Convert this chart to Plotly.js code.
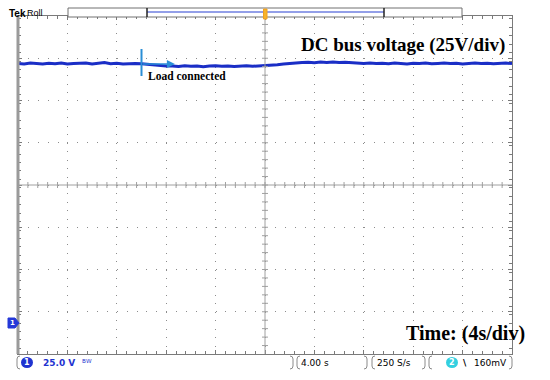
<!DOCTYPE html>
<html>
<head>
<meta charset="utf-8">
<script src="https://cdn.plot.ly/plotly-3.0.1.min.js"></script>
<style>
  body { margin: 0; background: #ffffff; }
  #scope { width: 550px; height: 380px; }
</style>
</head>
<body>
<div id="scope"></div>
<script>
// sample period of the roll-mode record (s)
var sample_step = 0.5;

// DC bus voltage (V), one value every 0.5 s, 0 .. 40 s
var bus_voltage = [
    153.6, 153.3, 153.8, 153.5, 153.2, 153.7, 153.4, 153.9, 153.3, 153.6,
    153.5, 153.8, 153.2, 153.6, 154.1, 153.4, 153.7, 153.3, 153.6, 153.5,
    153.4,
    153.0, 152.6, 152.3, 152.1,
    152.0, 151.8, 152.2, 151.9, 152.1, 151.7, 152.0, 152.2, 151.9, 152.1,
    151.8, 152.0, 152.2, 151.9, 152.1, 152.0,
    152.4, 152.8, 153.2, 153.6, 153.9, 154.1,
    154.3, 154.0, 154.4, 154.2, 154.5, 154.1, 154.3, 154.0,
    153.8, 153.6, 153.9, 153.5, 153.7, 153.4, 153.8, 153.6, 153.3, 153.7,
    153.5, 153.9, 153.4, 153.6, 153.8, 153.5, 153.7, 153.3, 153.6, 153.9,
    153.5, 153.7, 153.4, 153.6, 153.8, 153.5
];

var time_per_div = 4;     // s/div
var volt_per_div = 25;    // V/div
var load_time = 10;       // s, moment the load is switched in

var status_labels = [ '25.0 V', '4.00 s', '250 S/s', '160mV' ];
var title_text = 'DC bus voltage (25V/div)';
var time_text = 'Time: (4s/div)';
var event_text = 'Load connected';

var time = [];
for( var i = 0; i < bus_voltage.length; i++ )
{
    time.push( i * sample_step );
}

// screen geometry (pixels) of the graticule
const L = 18, R = 512, T = 16, B = 354;
const ground_div = ( B - 323 ) / ( ( B - T ) / 8 );

function fx( p ) { return ( p - L ) / ( R - L ); }
function fy( p ) { return ( B - p ) / ( B - T ); }

var grey = '#8c8c8c';
var trace_blue = '#1a2ec6';
var marker_blue = '#2a8fd6';

var data =
[
    {
        type: 'scatter',
        mode: 'lines',
        x: time,
        y: bus_voltage,
        hoverinfo: 'skip',
        line: { color: trace_blue, width: 3 }
    }
];

var shapes = [];

// centre cross of the graticule
shapes.push( { type: 'line', xref: 'paper', yref: 'paper', x0: 0.5, x1: 0.5, y0: 0, y1: 1, line: { color: '#a0a0a0', width: 1 } } );
shapes.push( { type: 'line', xref: 'paper', yref: 'paper', x0: 0, x1: 1, y0: 0.5, y1: 0.5, line: { color: '#a0a0a0', width: 1 } } );
for( var i = 1; i < 50; i++ )
{
    var xp = i / 50;
    shapes.push( { type: 'line', xref: 'paper', yref: 'paper', x0: xp, x1: xp, y0: 0.5 - 3 / 338, y1: 0.5 + 3 / 338, line: { color: '#a0a0a0', width: 1 } } );
}
for( var i = 1; i < 40; i++ )
{
    var yp = i / 40;
    shapes.push( { type: 'line', xref: 'paper', yref: 'paper', y0: yp, y1: yp, x0: 0.5 - 3 / 494, x1: 0.5 + 3 / 494, line: { color: '#a0a0a0', width: 1 } } );
}

// thick left edge of the screen
shapes.push( { type: 'line', xref: 'paper', yref: 'paper', x0: 0, x1: 0, y0: 0, y1: 1, line: { color: '#9a9a9a', width: 3 } } );

// record view bar at the top
shapes.push( { type: 'rect', xref: 'paper', yref: 'paper', x0: fx( 68 ), x1: fx( 462 ), y0: fy( 17 ), y1: fy( 8 ), line: { color: '#707070', width: 1 }, fillcolor: '#ffffff' } );
shapes.push( { type: 'line', xref: 'paper', yref: 'paper', x0: fx( 147 ), x1: fx( 384 ), y0: fy( 12 ), y1: fy( 12 ), line: { color: '#6f7fe0', width: 1.5 } } );
shapes.push( { type: 'line', xref: 'paper', yref: 'paper', x0: fx( 147 ), x1: fx( 147 ), y0: fy( 17 ), y1: fy( 8 ), line: { color: '#222222', width: 1.5 } } );
shapes.push( { type: 'line', xref: 'paper', yref: 'paper', x0: fx( 384 ), x1: fx( 384 ), y0: fy( 17 ), y1: fy( 8 ), line: { color: '#222222', width: 1.5 } } );
shapes.push( { type: 'rect', xref: 'paper', yref: 'paper', x0: fx( 263.5 ), x1: fx( 267 ), y0: fy( 19 ), y1: fy( 9 ), line: { color: '#f0a020', width: 1 }, fillcolor: '#f7b32b' } );

// channel 1 ground marker
shapes.push( {
    type: 'path', xref: 'paper', yref: 'paper',
    path: 'M ' + fx( 8 ) + ' ' + fy( 318 ) + ' L ' + fx( 15 ) + ' ' + fy( 318 ) + ' L ' + fx( 19 ) + ' ' + fy( 323 ) + ' L ' + fx( 15 ) + ' ' + fy( 328 ) + ' L ' + fx( 8 ) + ' ' + fy( 328 ) + ' Z',
    fillcolor: '#2438d8', line: { color: '#2438d8', width: 1 }
} );

// status bar brackets
function bracket( p, dir )
{
    const y0 = 356, y1 = 369, c = 3 * dir;
    return {
        type: 'path', xref: 'paper', yref: 'paper',
        path: 'M ' + fx( p + c ) + ' ' + fy( y0 ) + ' Q ' + fx( p ) + ' ' + fy( y0 ) + ' ' + fx( p ) + ' ' + fy( y0 + 3 ) +
              ' L ' + fx( p ) + ' ' + fy( y1 - 3 ) + ' Q ' + fx( p ) + ' ' + fy( y1 ) + ' ' + fx( p + c ) + ' ' + fy( y1 ),
        line: { color: '#8a8a8a', width: 1 }
    };
}
[ [ 17, 1 ], [ 293, -1 ], [ 297, 1 ], [ 367, -1 ], [ 372, 1 ], [ 425, -1 ], [ 429, 1 ], [ 512, -1 ] ].forEach( function( b ) { shapes.push( bracket( b[ 0 ], b[ 1 ] ) ); } );

// channel badges
shapes.push( { type: 'circle', xref: 'paper', yref: 'paper', x0: fx( 21 ), x1: fx( 33 ), y0: fy( 368 ), y1: fy( 357 ), fillcolor: '#1f33d0', line: { width: 0 } } );
shapes.push( { type: 'circle', xref: 'paper', yref: 'paper', x0: fx( 446 ), x1: fx( 458 ), y0: fy( 368 ), y1: fy( 357 ), fillcolor: '#33d0e0', line: { width: 0 } } );

// load connected marker
shapes.push( { type: 'line', xref: 'x', yref: 'paper', x0: load_time, x1: load_time, y0: fy( 76 ), y1: fy( 49 ), line: { color: marker_blue, width: 2 } } );

var status_font = { family: 'DejaVu Sans, sans-serif', size: 9 };
function status( text, p, color, anchor )
{
    return {
        xref: 'paper', yref: 'paper', x: fx( p ), y: fy( 363 ), text: text, showarrow: false,
        xanchor: anchor || 'left', yanchor: 'middle',
        font: { family: status_font.family, size: status_font.size, color: color }
    };
}

var serif = 'Liberation Serif, Times New Roman, serif';

var annotations =
[
    { xref: 'paper', yref: 'paper', x: fx( 403 ), y: fy( 45 ), text: '<b>' + title_text + '</b>', showarrow: false, xanchor: 'center', yanchor: 'middle',
      font: { family: serif, size: 19, color: '#000000' } },
    { xref: 'paper', yref: 'paper', x: fx( 465 ), y: fy( 333 ), text: '<b>' + time_text + '</b>', showarrow: false, xanchor: 'center', yanchor: 'middle',
      font: { family: serif, size: 20, color: '#000000' } },
    { xref: 'paper', yref: 'paper', x: fx( 146 ), y: fy( 76 ), text: '<b>' + event_text + '</b>', showarrow: false, xanchor: 'left', yanchor: 'middle',
      font: { family: serif, size: 11.5, color: '#000000' } },
    { xref: 'x', yref: 'paper', x: load_time + 2.7, y: fy( 64 ), ax: load_time, ay: fy( 64 ), axref: 'x', ayref: 'paper',
      text: '', showarrow: true, arrowhead: 2, arrowsize: 1, arrowwidth: 1.6, arrowcolor: marker_blue },
    { xref: 'paper', yref: 'paper', x: fx( 7 ), y: fy( 13 ), text: '<b>Tek</b>', showarrow: false, xanchor: 'left', yanchor: 'middle',
      font: { family: 'Liberation Sans, Arial, sans-serif', size: 10, color: '#000000' } },
    { xref: 'paper', yref: 'paper', x: fx( 25 ), y: fy( 13 ), text: 'Roll', showarrow: false, xanchor: 'left', yanchor: 'middle',
      font: { family: 'Liberation Sans, Arial, sans-serif', size: 9, color: '#000000' } },
    { xref: 'paper', yref: 'paper', x: fx( 12.5 ), y: fy( 323 ), text: '<b>1</b>', showarrow: false, xanchor: 'center', yanchor: 'middle',
      font: { family: 'DejaVu Sans, sans-serif', size: 7, color: '#ffffff' } },
    { xref: 'paper', yref: 'paper', x: fx( 27 ), y: fy( 362.5 ), text: '<b>1</b>', showarrow: false, xanchor: 'center', yanchor: 'middle',
      font: { family: 'DejaVu Sans, sans-serif', size: 8, color: '#ffffff' } },
    { xref: 'paper', yref: 'paper', x: fx( 452 ), y: fy( 362.5 ), text: '<b>2</b>', showarrow: false, xanchor: 'center', yanchor: 'middle',
      font: { family: 'DejaVu Sans, sans-serif', size: 8, color: '#ffffff' } },
    status( '<b>' + status_labels[ 0 ] + '</b>', 41, '#1f33d0' ),
    status( 'ᴮᵂ', 80, '#1f33d0' ),
    status( status_labels[ 1 ], 299, '#000000' ),
    status( status_labels[ 2 ], 375, '#000000' ),
    status( '<b>\\</b>', 461, '#000000' ),
    status( status_labels[ 3 ], 509, '#000000', 'right' )
];

var layout =
{
    width: 550,
    height: 380,
    margin: { l: L, r: 550 - R, t: T, b: 380 - B, pad: 0 },
    paper_bgcolor: '#ffffff',
    plot_bgcolor: '#ffffff',
    showlegend: false,
    xaxis:
    {
        range: [ 0, 10 * time_per_div ],
        tick0: 0,
        dtick: time_per_div,
        showticklabels: false,
        zeroline: false,
        showgrid: true,
        gridcolor: grey,
        gridwidth: 1,
        griddash: '1px,7.45px',
        showline: true,
        linecolor: '#7a7a7a',
        linewidth: 1,
        mirror: 'ticks',
        ticks: 'inside',
        ticklen: 4,
        tickcolor: '#7a7a7a',
        minor: { dtick: time_per_div / 5, ticks: 'inside', ticklen: 3, tickcolor: '#7a7a7a', showgrid: false }
    },
    yaxis:
    {
        range: [ - ground_div * volt_per_div, ( 8 - ground_div ) * volt_per_div ],
        tick0: - ground_div * volt_per_div,
        dtick: volt_per_div,
        showticklabels: false,
        zeroline: false,
        showgrid: true,
        gridcolor: grey,
        gridwidth: 1,
        griddash: '1px,8.88px',
        showline: true,
        linecolor: '#7a7a7a',
        linewidth: 1,
        mirror: 'ticks',
        ticks: 'inside',
        ticklen: 4,
        tickcolor: '#7a7a7a',
        minor: { dtick: volt_per_div / 5, ticks: 'inside', ticklen: 3, tickcolor: '#7a7a7a', showgrid: false }
    },
    shapes: shapes,
    annotations: annotations
};

Plotly.newPlot( 'scope', data, layout, { staticPlot: true, displayModeBar: false } );
</script>
</body>
</html>
